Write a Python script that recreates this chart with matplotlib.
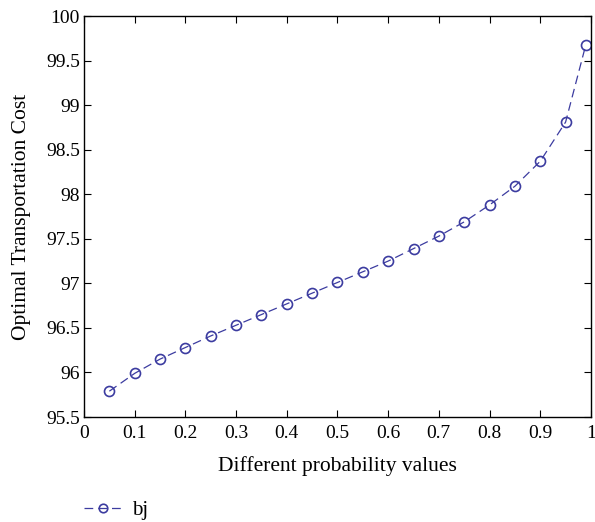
import numpy as np
import matplotlib.pyplot as plt

plt.rcParams['font.family'] = ['Liberation Serif', 'DejaVu Serif']

# probability values and resulting optimal transportation cost
prob = [0.05, 0.10, 0.15, 0.20, 0.25, 0.30, 0.35, 0.40, 0.45, 0.50,
        0.55, 0.60, 0.65, 0.70, 0.75, 0.80, 0.85, 0.90, 0.95, 0.99]
cost = [95.79, 95.99, 96.15, 96.28, 96.41, 96.53, 96.65, 96.77, 96.89, 97.01,
        97.13, 97.25, 97.39, 97.53, 97.69, 97.88, 98.09, 98.37, 98.81, 99.68]
xticks = [0, 0.1, 0.2, 0.3, 0.4, 0.5, 0.6, 0.7, 0.8, 0.9, 1]
yticks = [95.5, 96, 96.5, 97, 97.5, 98, 98.5, 99, 99.5, 100]

color = "#3c3ca0"

fig = plt.figure(figsize=(5.95, 5.22), dpi=100)
ax = fig.add_axes([0.1412, 0.2011, 0.852, 0.7682])
line, = ax.plot(prob, cost, linestyle=(0, (7, 4)), linewidth=0.9, color=color,
                marker="o", markersize=7.2, markerfacecolor="none",
                markeredgewidth=1.2, markeredgecolor=color, label="bj")

ax.set_xlim(0, 1)
ax.set_ylim(95.5, 100)
ax.set_xticks(xticks)
ax.set_xticklabels([f"{t:g}" for t in xticks])
ax.set_yticks(yticks)
ax.set_yticklabels([f"{t:g}" for t in yticks])
ax.tick_params(direction="in", top=True, right=True, length=5, width=0.8,
               labelsize=14)
ax.tick_params(axis="y", pad=3)
ax.tick_params(axis="x", pad=6)
for s in ax.spines.values():
    s.set_linewidth(1.0)

ax.set_xlabel("Different probability values", fontsize=15.5, labelpad=10)
ax.set_ylabel("Optimal Transportation Cost", fontsize=15.5, labelpad=11)

fig.legend(handles=[line], loc="lower left", bbox_to_anchor=(84 / 595, 2 / 522),
           frameon=False, fontsize=15, handlelength=1.8, handletextpad=0.5,
           borderpad=0, borderaxespad=0, markerscale=0.85)

fig.savefig("out.png", dpi=100)
